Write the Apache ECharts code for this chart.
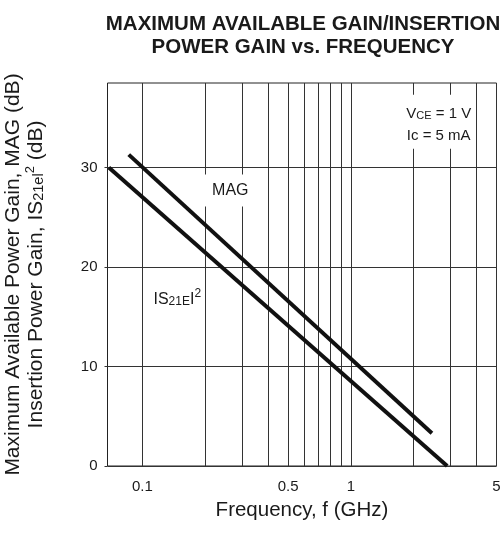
<!DOCTYPE html>
<html>
<head>
<meta charset="utf-8">
<script src="https://cdn.jsdelivr.net/npm/echarts@6/dist/echarts.min.js"></script>
<style>
  html, body { margin: 0; padding: 0; background: #fff; }
  #chart { width: 504px; height: 535px; }
</style>
</head>
<body>
<div id="chart"></div>
<script>
// ---- data ----
const freqMAG = [0.086, 2.45];      // GHz
const gainMAG = [31.3, 3.3];        // dB
const freqS21 = [0.069, 2.9];       // GHz
const gainS21 = [30.0, 0.0];        // dB

const xGridValues = [0.1, 0.2, 0.3, 0.4, 0.5, 0.6, 0.7, 0.8, 0.9, 1, 2, 3, 4, 5];
const xTickLabels = [0.1, 0.5, 1, 5];
const yTickLabels = [0, 10, 20, 30];

// annotation anchors (data coordinates)
const magLabelAt = [0.264, 27.7];
const s21LabelAt = [0.147, 16.9];
const condLabelAt = [2.64, 34.6];

const FONT = '"Liberation Sans", Arial, Helvetica, sans-serif';
const INK = '#1a1a1a';

const chart = echarts.init(document.getElementById('chart'), null, { renderer: 'canvas' });

function pairs(xs, ys) { return xs.map((x, i) => [x, ys[i]]); }

const option = {
  backgroundColor: '#fff',
  animation: false,
  textStyle: { fontFamily: FONT },
  title: {
    text: 'MAXIMUM AVAILABLE GAIN/INSERTION\nPOWER GAIN vs. FREQUENCY',
    left: 298,
    top: 8,
    textAlign: 'center',
    textStyle: { fontFamily: FONT, fontSize: 20.5, fontWeight: 'bold', color: INK, lineHeight: 23 }
  },
  grid: {
    left: 107.5, right: 7.5, top: 83, bottom: 69,
    show: true, borderColor: '#222', borderWidth: 1, backgroundColor: 'transparent',
    containLabel: false, outerBoundsMode: 'none'
  },
  xAxis: {
    type: 'log', logBase: 10, min: 0.068, max: 5,
    axisLine: { show: false },
    axisTick: { show: false, customValues: xGridValues },
    axisLabel: {
      customValues: xTickLabels,
      formatter: v => String(+(+v).toPrecision(3)),
      fontFamily: FONT, fontSize: 15, color: INK, margin: 13
    },
    splitLine: { show: true, lineStyle: { color: '#333', width: 1 } },
    minorTick: { show: false }, minorSplitLine: { show: false },
    name: 'Frequency, f (GHz)',
    nameLocation: 'middle', nameGap: 34,
    nameTextStyle: { fontFamily: FONT, fontSize: 20.5, color: INK }
  },
  yAxis: {
    type: 'value', min: 0, max: 38.5, interval: 10,
    axisLine: { show: false },
    axisTick: { show: true, length: 3, customValues: yTickLabels, lineStyle: { color: '#333' } },
    axisLabel: { customValues: yTickLabels, fontFamily: FONT, fontSize: 15, color: INK, margin: 10 },
    splitLine: { show: true, lineStyle: { color: '#333', width: 1 } },
    name: '{n|Maximum Available Power Gain, MAG (dB)}\n{n|Insertion Power Gain, IS}{s|21el}{p|2}{n| (dB)}',
    nameLocation: 'middle', nameGap: 61, nameRotate: 90,
    nameTextStyle: {
      fontFamily: FONT, fontSize: 21, color: INK, lineHeight: 23,
      rich: {
        n: { fontFamily: FONT, fontSize: 21, color: INK, lineHeight: 23, verticalAlign: 'bottom' },
        s: { fontFamily: FONT, fontSize: 14.5, color: INK, lineHeight: 17, verticalAlign: 'bottom' },
        p: { fontFamily: FONT, fontSize: 13, color: INK, lineHeight: 13, verticalAlign: 'top' }
      }
    }
  },
  series: [
    {
      name: 'MAG', type: 'line', data: pairs(freqMAG, gainMAG),
      symbol: 'none', lineStyle: { color: '#111', width: 4 }, z: 3,
      markPoint: {
        symbol: 'rect', symbolSize: 0, silent: true,
        data: [
          {
            coord: magLabelAt,
            label: {
              show: true, position: 'inside', formatter: 'MAG',
              fontFamily: FONT, fontSize: 16, color: INK,
              backgroundColor: '#fff', padding: [8, 14]
            }
          },
          {
            coord: condLabelAt,
            label: {
              show: true, position: 'inside',
              formatter: '{n|V}{s|CE}{n| = 1 V}\n{n|Ic = 5 mA}',
              backgroundColor: '#fff', padding: [5, 4],
              rich: {
                n: { fontFamily: FONT, fontSize: 15, color: INK, lineHeight: 22, verticalAlign: 'bottom' },
                s: { fontFamily: FONT, fontSize: 11, color: INK, lineHeight: 18, verticalAlign: 'bottom' }
              }
            }
          }
        ]
      }
    },
    {
      name: 'IS21EI2', type: 'line', data: pairs(freqS21, gainS21),
      symbol: 'none', lineStyle: { color: '#111', width: 4 }, z: 3,
      markPoint: {
        symbol: 'rect', symbolSize: 0, silent: true,
        data: [
          {
            coord: s21LabelAt,
            label: {
              show: true, position: 'inside',
              formatter: '{n|IS}{s|21E}{n|I}{p|2}',
              rich: {
                n: { fontFamily: FONT, fontSize: 16, color: INK, lineHeight: 20, verticalAlign: 'bottom' },
                s: { fontFamily: FONT, fontSize: 12, color: INK, lineHeight: 16, verticalAlign: 'bottom' },
                p: { fontFamily: FONT, fontSize: 12, color: INK, lineHeight: 12, verticalAlign: 'top' }
              }
            }
          }
        ]
      }
    }
  ]
};

chart.setOption(option);
</script>
</body>
</html>
